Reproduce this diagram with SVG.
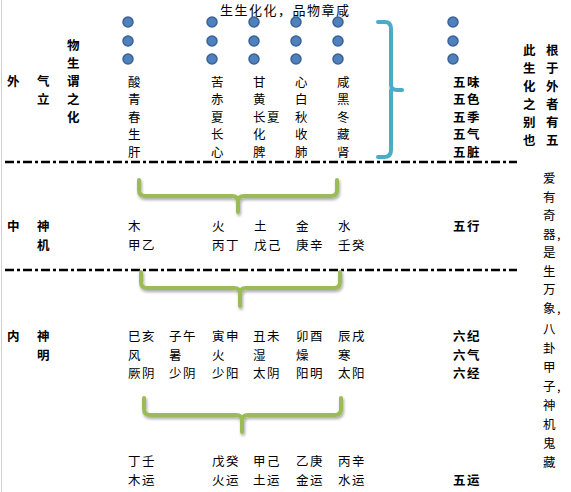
<svg xmlns="http://www.w3.org/2000/svg" width="571" height="492" viewBox="0 0 571 492">
<defs>
<style>
text{font-family:"Noto Sans CJK SC","Noto Sans CJK TC",sans-serif;font-size:12.5px;letter-spacing:1.5px;fill:#000}
.b{font-weight:bold}
.ttl{font-size:13px;letter-spacing:1.5px}
.dot{fill:#4f81bd;stroke:#3a6296;stroke-width:1.5}
.dash{stroke:#000;stroke-width:2.5;stroke-dasharray:9 3 3 3;fill:none}
.gb{fill:none;stroke:#9bbb59;stroke-width:4;stroke-linecap:round;stroke-linejoin:round}
.tb{fill:none;stroke:#4bacc6;stroke-width:4;stroke-linecap:round;stroke-linejoin:round}
</style>
<filter id="sh" x="-10%" y="-30%" width="120%" height="160%">
<feGaussianBlur in="SourceAlpha" stdDeviation="1.5"/>
<feOffset dx="1" dy="2" result="o"/>
<feComponentTransfer><feFuncA type="linear" slope="0.35"/></feComponentTransfer>
<feMerge><feMergeNode/><feMergeNode in="SourceGraphic"/></feMerge>
</filter>
</defs>
<rect width="571" height="492" fill="#fff"/>
<line x1="1.5" y1="0" x2="1.5" y2="492" stroke="#d0d0d0" stroke-width="1"/>

<g id="connectors">
<line class="dash" x1="5" y1="162" x2="517" y2="162"/>
<line class="dash" x1="5" y1="270" x2="517" y2="270"/>
<path class="tb" d="M378,22 L385,22 Q391,22 391,29 L391,85 Q391,90 397,90 L402,90 M391,90 L391,95 L391,150 Q391,157 384,157 L378,157"/>
<g filter="url(#sh)">
<path class="gb" d="M139,180 L139,190 Q139,196 145,196 L232,196 Q238,196 238,202 L238,212 M238,202 Q238,196 244,196 L331,196 Q337,196 337,190 L337,180"/>
<path class="gb" d="M141,272 L141,282 Q141,288 147,288 L234,288 Q240,288 240,294 L240,306 M240,294 Q240,288 246,288 L334,288 Q340,288 340,282 L340,272"/>
<path class="gb" d="M144,398 L144,409 Q144,415 150,415 L236,415 Q242,415 242,421 L242,432 M242,421 Q242,415 248,415 L335,415 Q341,415 341,409 L341,398"/>
</g>
</g>

<g id="title"><text class="ttl" x="220" y="15">生生化化，品物章咸</text></g>

<g id="dots">
<circle class="dot" cx="128" cy="22" r="5"/><circle class="dot" cx="128" cy="41" r="5"/><circle class="dot" cx="128" cy="59" r="5"/>
<circle class="dot" cx="212" cy="22" r="5"/><circle class="dot" cx="212" cy="41" r="5"/><circle class="dot" cx="212" cy="59" r="5"/>
<circle class="dot" cx="254" cy="22" r="5"/><circle class="dot" cx="254" cy="41" r="5"/><circle class="dot" cx="254" cy="59" r="5"/>
<circle class="dot" cx="296" cy="22" r="5"/><circle class="dot" cx="296" cy="41" r="5"/><circle class="dot" cx="296" cy="59" r="5"/>
<circle class="dot" cx="338" cy="22" r="5"/><circle class="dot" cx="338" cy="41" r="5"/><circle class="dot" cx="338" cy="59" r="5"/>
<circle class="dot" cx="453" cy="22" r="5"/><circle class="dot" cx="453" cy="41" r="5"/><circle class="dot" cx="453" cy="59" r="5"/>
</g>

<g id="outer-labels">
<text class="b" x="7" y="86">外</text>
<text class="b"><tspan x="37" y="86">气</tspan><tspan x="37" y="104">立</tspan></text>
<text class="b"><tspan x="67" y="50">物</tspan><tspan x="67" y="68">生</tspan><tspan x="67" y="86">谓</tspan><tspan x="67" y="104">之</tspan><tspan x="67" y="122">化</tspan></text>
</g>

<g id="outer-cols">
<text><tspan x="128" y="86.5">酸</tspan><tspan x="128" y="104.1">青</tspan><tspan x="128" y="121.7">春</tspan><tspan x="128" y="139.3">生</tspan><tspan x="128" y="156.9">肝</tspan></text>
<text><tspan x="211" y="86.5">苦</tspan><tspan x="211" y="104.1">赤</tspan><tspan x="211" y="121.7">夏</tspan><tspan x="211" y="139.3">长</tspan><tspan x="211" y="156.9">心</tspan></text>
<text><tspan x="253" y="86.5">甘</tspan><tspan x="253" y="104.1">黄</tspan><tspan x="253" y="121.7">长夏</tspan><tspan x="253" y="139.3">化</tspan><tspan x="253" y="156.9">脾</tspan></text>
<text><tspan x="295" y="86.5">心</tspan><tspan x="295" y="104.1">白</tspan><tspan x="295" y="121.7">秋</tspan><tspan x="295" y="139.3">收</tspan><tspan x="295" y="156.9">肺</tspan></text>
<text><tspan x="337" y="86.5">咸</tspan><tspan x="337" y="104.1">黑</tspan><tspan x="337" y="121.7">冬</tspan><tspan x="337" y="139.3">藏</tspan><tspan x="337" y="156.9">肾</tspan></text>
<text class="b"><tspan x="453" y="86.5">五味</tspan><tspan x="453" y="104.1">五色</tspan><tspan x="453" y="121.7">五季</tspan><tspan x="453" y="139.3">五气</tspan><tspan x="453" y="156.9">五脏</tspan></text>
</g>

<g id="right-notes">
<text class="b"><tspan x="523" y="55">此</tspan><tspan x="523" y="73">生</tspan><tspan x="523" y="91">化</tspan><tspan x="523" y="109">之</tspan><tspan x="523" y="127">别</tspan><tspan x="523" y="145">也</tspan></text>
<text class="b"><tspan x="546" y="55">根</tspan><tspan x="546" y="73">于</tspan><tspan x="546" y="91">外</tspan><tspan x="546" y="109">者</tspan><tspan x="546" y="127">有</tspan><tspan x="546" y="145">五</tspan></text>
<text><tspan x="543" y="183">爱</tspan><tspan x="543" y="201.5">有</tspan><tspan x="543" y="220">奇</tspan><tspan x="543" y="238.5">器,</tspan><tspan x="543" y="257">是</tspan><tspan x="543" y="275.5">生</tspan><tspan x="543" y="294">万</tspan><tspan x="543" y="312.5">象,</tspan><tspan x="543" y="334">八</tspan><tspan x="543" y="353">卦</tspan><tspan x="543" y="372">甲</tspan><tspan x="543" y="391">子,</tspan><tspan x="543" y="410">神</tspan><tspan x="543" y="429">机</tspan><tspan x="543" y="448">鬼</tspan><tspan x="543" y="467">藏</tspan></text>
</g>

<g id="middle">
<text class="b" x="7" y="231">中</text>
<text class="b"><tspan x="37" y="231">神</tspan><tspan x="37" y="249.5">机</tspan></text>
<text><tspan x="128" y="231">木</tspan><tspan x="128" y="250">甲乙</tspan></text>
<text><tspan x="212" y="231">火</tspan><tspan x="212" y="250">丙丁</tspan></text>
<text><tspan x="254" y="231">土</tspan><tspan x="254" y="250">戊己</tspan></text>
<text><tspan x="296" y="231">金</tspan><tspan x="296" y="250">庚辛</tspan></text>
<text><tspan x="338" y="231">水</tspan><tspan x="338" y="250">壬癸</tspan></text>
<text class="b" x="453" y="231">五行</text>
</g>

<g id="inner">
<text class="b" x="7" y="341">内</text>
<text class="b"><tspan x="37" y="341">神</tspan><tspan x="37" y="359.5">明</tspan></text>
<text><tspan x="128" y="341">巳亥</tspan><tspan x="128" y="359.5">风</tspan><tspan x="128" y="378">厥阴</tspan></text>
<text><tspan x="169" y="341">子午</tspan><tspan x="169" y="359.5">暑</tspan><tspan x="169" y="378">少阴</tspan></text>
<text><tspan x="212" y="341">寅申</tspan><tspan x="212" y="359.5">火</tspan><tspan x="212" y="378">少阳</tspan></text>
<text><tspan x="253" y="341">丑未</tspan><tspan x="253" y="359.5">湿</tspan><tspan x="253" y="378">太阴</tspan></text>
<text><tspan x="296" y="341">卯酉</tspan><tspan x="296" y="359.5">燥</tspan><tspan x="296" y="378">阳明</tspan></text>
<text><tspan x="338" y="341">辰戌</tspan><tspan x="338" y="359.5">寒</tspan><tspan x="338" y="378">太阳</tspan></text>
<text class="b"><tspan x="453" y="341">六纪</tspan><tspan x="453" y="359.5">六气</tspan><tspan x="453" y="378">六经</tspan></text>
</g>

<g id="yun">
<text><tspan x="128" y="466">丁壬</tspan><tspan x="128" y="484.5">木运</tspan></text>
<text><tspan x="212" y="466">戊癸</tspan><tspan x="212" y="484.5">火运</tspan></text>
<text><tspan x="253" y="466">甲己</tspan><tspan x="253" y="484.5">土运</tspan></text>
<text><tspan x="296" y="466">乙庚</tspan><tspan x="296" y="484.5">金运</tspan></text>
<text><tspan x="338" y="466">丙辛</tspan><tspan x="338" y="484.5">水运</tspan></text>
<text class="b" x="453" y="484.5">五运</text>
</g>
</svg>
